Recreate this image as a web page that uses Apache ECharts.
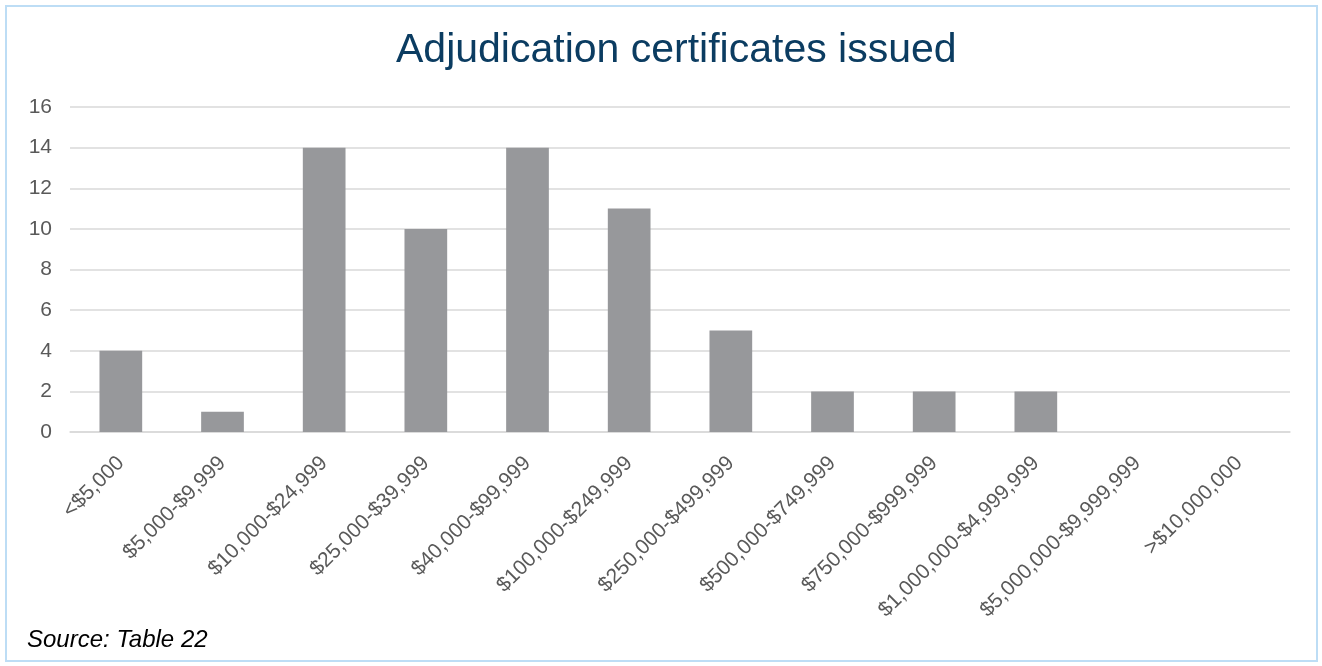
<!DOCTYPE html>
<html><head><meta charset="utf-8">
<script src="https://cdn.jsdelivr.net/npm/echarts@6/dist/echarts.min.js"></script>
<style>
html,body{margin:0;padding:0;background:#fff;}
#frame{position:absolute;left:5px;top:5px;width:1309px;height:653px;border:2px solid #BDDDF5;box-sizing:content-box;}
#c{position:absolute;left:0;top:0;width:1322px;height:666px;}
</style></head>
<body>
<div id="frame"></div>
<div id="c"></div>
<script>
const categories = ['<$5,000','$5,000-$9,999','$10,000-$24,999','$25,000-$39,999','$40,000-$99,999','$100,000-$249,999','$250,000-$499,999','$500,000-$749,999','$750,000-$999,999','$1,000,000-$4,999,999','$5,000,000-$9,999,999','>$10,000,000'];
const certificates = [4,1,14,10,14,11,5,2,2,2,0,0];
const titleText = 'Adjudication certificates issued';
const sourceText = 'Source: Table 22';

const chart = echarts.init(document.getElementById('c'), null, {renderer:'canvas'});
chart.setOption({
  animation:false,
  backgroundColor:'transparent',
  title:[{text:titleText,left:391,top:25,textStyle:{fontFamily:'Liberation Sans, Arial',fontSize:41,fontWeight:'normal',color:'#0B3C61'}},
         {text:sourceText,left:22,top:623,textStyle:{fontFamily:'Liberation Sans, Arial',fontSize:24,fontStyle:'italic',fontWeight:'normal',color:'#000'}}],
  grid:{left:70,right:32,top:107,bottom:234,containLabel:false},
  xAxis:{type:'category',data:categories,
    axisLine:{lineStyle:{color:'#D9D9D9',width:1.5}},axisTick:{show:false},
    axisLabel:{rotate:45,interval:0,fontFamily:'Liberation Sans, Arial',fontSize:21,color:'#595959',margin:28}},
  yAxis:{type:'value',min:0,max:16,interval:2,
    axisLine:{show:false},axisTick:{show:false},
    splitLine:{lineStyle:{color:'#D9D9D9',width:1.5}},
    axisLabel:{fontFamily:'Liberation Sans, Arial',fontSize:21,color:'#595959',margin:18}},
  series:[{type:'bar',data:certificates,barWidth:'42%',itemStyle:{color:'#97989B'}}]
});
</script>
</body></html>
